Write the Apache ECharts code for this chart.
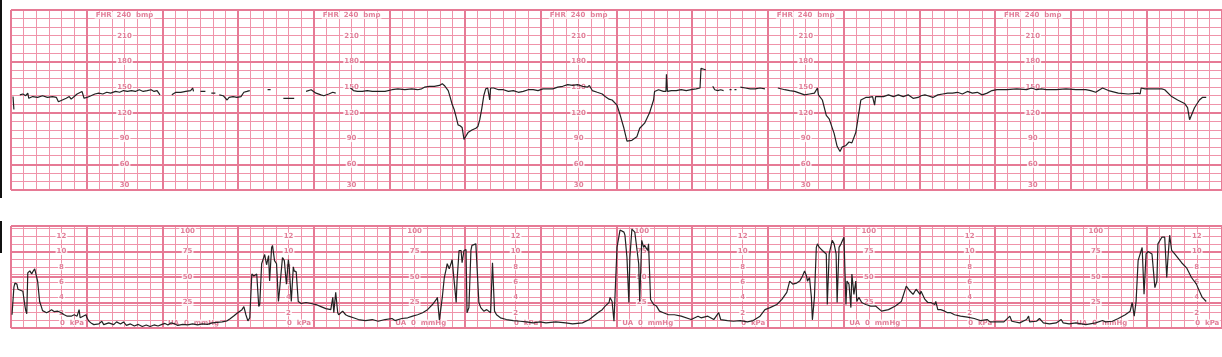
<!DOCTYPE html>
<html>
<head>
<meta charset="utf-8">
<script src="https://cdn.jsdelivr.net/npm/echarts@6/dist/echarts.min.js"></script>
<style>html,body{margin:0;padding:0;background:#fff}#c{width:1222px;height:357px}</style>
</head>
<body>
<div id="c"></div>
<script>
// ---- DATA (time in seconds, FHR in bpm, UA in mmHg; null = signal loss) ----
const fhrTrace = [
[1.6,139],[2.3,124],[3,null],
[7.0,141],[9.4,142],[11.7,140],[13.3,143],[14.1,137],[17.2,139],[21.1,138],[25.0,140],[28.9,138],[32.9,139],[36.0,138],[37.6,133],[40.7,135],[43.8,137],[46.2,139],[47.7,136],[50.1,139],[52.4,142],[56.3,145],[57.9,137],[60.2,138],[63.4,140],[66.5,142],[69.6,143],[72.8,142],[75.9,144],[79.0,143],[82.9,145],[86.1,144],[89.2,146],[92.3,145],[95.5,146],[98.6,145],[101.7,147],[104.8,145],[108.0,146],[111.1,147],[113.4,145],[115.8,146],[118.1,141],[120,null],
[127.5,141],[130.7,144],[134.6,144],[138.5,145],[142.4,146],[144.0,149],[144.7,145],[147,null],
[150.2,145],[154.1,145],[156,null],
[158.8,143],[162.0,143],[163,null],
[165.1,141],[168.2,140],[171.3,135],[172.9,138],[176.0,139],[179.2,138],[182.3,139],[184.6,144],[187.0,145],[189.3,146],[195,null],
[203.4,147],[205.8,147],[210,null],
[215.9,137],[224.5,137],[230,null],
[233.9,145],[237.9,147],[241.8,143],[245.7,141],[248.0,140],[251.9,142],[255.1,144],[257.4,143],[262,null],
[269.1,149],[271.5,146],[274.6,145],[278.5,145],[282.4,146],[286.4,145],[291.1,145],[296.5,145],[302.0,147],[306.7,148],[312.2,147],[317.7,148],[322.3,147],[325.5,148],[327.8,150],[331.7,151],[335.6,151],[339.6,152],[341.9,154],[343.5,152],[345.0,150],[346.6,146],[348.2,138],[349.7,130],[351.3,124],[352.9,115],[354.4,106],[356.0,105],[357.6,103],[359.1,89],[360.7,93],[362.3,97],[363.8,99],[365.4,100],[366.9,101],[368.5,102],[370.1,104],[371.6,112],[373.2,125],[374.8,140],[376.3,148],[377.9,149],[379.5,135],[380.2,149],[382.6,149],[386.5,147],[390.4,147],[394.3,145],[398.2,146],[402.2,144],[406.1,145],[410.0,147],[413.9,147],[417.8,146],[421.7,148],[425.6,148],[429.5,148],[433.4,150],[437.4,151],[441.3,153],[445.2,152],[449.1,153],[453.0,151],[456.9,150],[458.5,152],[460.8,146],[464.7,144],[468.7,142],[471.0,139],[474.1,136],[476.5,135],[480.4,129],[482.8,118],[485.9,102],[488.3,87],[489.8,85],[492.2,88],[496.1,92],[498.4,102],[502.3,108],[506.2,120],[509.4,135],[510.2,145],[513.3,147],[517.2,145],[519.2,145],[519.6,165],[520.4,145],[523.5,146],[527.4,146],[531.3,147],[535.3,146],[539.2,147],[543.1,148],[546.2,149],[547.0,172],[548.5,170],[550.9,170],[553,null],
[556.3,151],[557.9,147],[560.2,146],[562.6,147],[564.9,146],[567,null],
[569.6,147],[571.2,147],[572,null],
[573.5,147],[575.1,147],[576,null],
[578.2,150],[582.1,149],[586.0,148],[589.9,148],[593.8,149],[597.7,148],[600,null],
[607.9,149],[613.4,147],[617.3,146],[621.3,145],[625.2,143],[629.1,141],[633.0,142],[636.9,143],[639.3,149],[640.1,141],[643.2,135],[646.3,117],[648.6,113],[652.5,96],[654.9,81],[657.2,75],[658.8,80],[661.9,82],[664.3,86],[666.6,85],[669.7,97],[671.3,112],[673.7,135],[674.4,137],[677.6,138],[679.9,138],[683.0,139],[684.2,139],[684.6,129],[685.4,139],[687.7,139],[691.6,139],[695.6,141],[699.5,139],[703.4,141],[707.3,139],[711.2,141],[715.1,137],[719.1,138],[721.4,140],[724.5,141],[726.8,140],[730.8,138],[734.7,141],[738.6,142],[742.5,143],[746.4,143],[750.3,144],[754.2,142],[758.2,145],[762.1,143],[766.0,144],[769.9,141],[773.8,143],[777.7,146],[781.6,147],[789.4,147],[797.3,148],[805.1,147],[809.0,149],[812.9,147],[816.8,148],[820.7,147],[828.6,147],[836.4,148],[844.2,147],[852.0,147],[855.9,146],[859.9,144],[865.3,149],[870.0,146],[877.8,143],[885.7,142],[893.5,143],[895.1,142],[895.9,149],[899.0,148],[906.8,148],[912.3,148],[914.6,147],[920.1,139],[924.8,135],[930.3,131],[932.7,126],[934.3,112],[935.8,113],[938.2,126],[942.1,135],[944.4,138],[947.5,138]
];

const uaTrace = [
[0.8,13],[2.3,40],[3.1,44],[4.7,43],[5.5,38],[7.0,37],[9.4,36],[11.0,22],[11.7,17],[12.5,14],[13.3,54],[14.9,56],[16.4,53],[17.2,55],[18.8,58],[20.3,58],[21.1,46],[22.7,26],[24.3,20],[25.0,17],[28.2,15],[30.5,16.5],[32.1,18],[34.4,16],[36.8,16.5],[39.9,15],[42.2,13],[44.6,11.6],[47.7,11.6],[50.1,13],[52.4,11.6],[54.0,18],[54.8,10],[56.3,11.6],[59.5,13],[60.2,10],[61.8,6.6],[63.4,5],[65.7,3.3],[69.6,4],[72.0,6.6],[73.5,3.3],[77.5,5],[81.4,3.3],[83.7,6],[86.8,4],[89.2,6],[91.5,2.6],[94.7,4],[97.8,2],[100.9,3.5],[104.1,1.5],[107.2,3],[110.3,1.5],[113.4,3],[116.6,2],[119.7,3.5],[122.1,4.5],[124.4,3],[126.7,5],[129.9,4],[132.2,2.5],[136.1,3.5],[140.0,3],[144.0,4],[147.9,3],[151.8,4],[155.7,3.5],[159.6,5],[163.5,5.5],[167.4,6],[171.3,7],[173.7,9],[176.8,12],[179.2,14.5],[183.1,18],[184.6,21],[186.2,13],[187.8,7],[189.3,10],[190.9,53],[192.5,51],[193.3,52],[194.8,53],[196.4,21],[197.2,23],[198.7,63],[200.3,69],[201.1,72],[202.6,62],[204.2,71],[205.0,46],[206.6,79],[207.3,81],[208.9,66],[210.5,63],[212.0,26],[212.8,36],[215.2,69],[216.7,66],[218.3,43],[219.9,67],[220.6,59],[222.2,26],[223.8,60],[224.5,56],[226.1,55],[227.7,26],[230.0,24],[233.9,25],[237.9,24],[241.8,23],[245.7,21],[249.6,19],[253.5,18],[254.3,16.5],[255.1,30],[255.9,15],[257.4,35],[259.0,15],[259.8,13],[262.9,16.5],[265.3,13],[267.6,11.6],[271.5,10],[275.4,8.3],[280.9,7.3],[286.4,8.3],[291.1,6.6],[296.5,8.3],[302.0,9.3],[304.4,7.3],[309.8,9.3],[314.5,10],[318.4,11.6],[322.3,13],[326.3,15],[330.2,18],[334.1,23],[337.2,28],[338.0,30],[339.6,8],[341.1,6.6],[341.9,30],[343.5,49.5],[345.0,58],[345.8,63],[347.4,58],[349.0,64],[349.7,67],[351.3,46],[352.9,25],[353.6,46],[355.2,76],[356.8,76],[357.6,64],[359.1,76],[360.7,77],[361.5,15],[363.0,20],[364.6,76],[365.4,81],[368.5,82.5],[369.3,82.5],[370.9,25],[372.4,20],[374.8,16.5],[377.1,18],[380.2,15],[381.7,64],[383.3,16.5],[384.9,13],[388.0,10],[392.7,8.3],[398.2,7.3],[403.7,6.6],[408.4,6],[413.9,5],[419.4,6],[424.1,5],[431.9,6],[439.7,5],[445.2,4],[453.0,5],[458.5,8.3],[463.2,13],[466.3,16],[468.7,18],[471.0,21.5],[474.1,25],[474.9,30],[476.5,26],[478.0,6.6],[478.9,5],[480.4,79],[482.8,96],[485.9,94],[486.7,91],[488.3,69],[489.8,25],[490.6,69],[492.2,97],[494.5,94],[497.6,63],[498.4,26],[500.0,86],[501.5,79],[502.3,81],[504.7,76],[505.4,82.5],[507.0,28],[509.4,23],[511.7,21.5],[514.1,16.5],[517.2,15],[521.2,13],[525.9,13],[531.3,11.6],[539.2,8.3],[544.6,11.6],[547.0,10],[552.4,11.6],[557.1,8.3],[561.0,15],[562.6,8.3],[568.0,7.3],[572.7,6.6],[578.2,7.3],[583.7,6],[588.4,7.3],[593.8,11.6],[597.7,18],[601.7,20],[607.1,23],[611.1,28],[615.0,35],[617.3,46],[619.7,43],[622.8,44],[625.2,46],[627.5,51],[629.1,56],[630.6,51],[631.4,46],[633.0,49.5],[634.5,30],[635.3,8],[636.9,30],[638.4,79],[639.3,82.5],[640.8,79],[643.2,76],[646.3,72.6],[647.1,23],[648.6,72.6],[651.0,86],[652.5,82.5],[654.1,72.6],[654.9,25],[656.4,79],[658.0,82.5],[658.8,81],[660.3,89],[661.9,23],[662.7,46],[664.3,43],[665.8,20],[666.6,53],[668.2,33],[669.7,46],[670.5,26],[672.1,30],[674.4,25],[677.6,23],[681.5,21.5],[685.4,21.5],[690.1,16.5],[695.6,18],[701.1,21.5],[705.8,26],[709.7,41],[712.8,36],[715.1,33],[717.5,38],[720.6,33],[721.4,36],[724.5,28],[726.8,25],[729.2,25],[732.3,23],[733.1,26],[734.7,18],[737.0,18],[740.2,16.5],[742.5,15],[744.9,15],[748.0,13],[752.7,11.6],[758.2,10.6],[763.6,9.3],[768.3,7.3],[773.8,8.3],[776.2,6],[781.6,6],[787.1,6],[791.8,11.6],[793.4,6.6],[799.6,5],[805.1,8.3],[806.7,11.6],[807.5,6],[813.0,6.6],[815.3,9.3],[818.4,5],[823.2,4],[828.6,5],[832.5,8.3],[834.1,5],[838.8,4],[844.2,5],[852.0,3.3],[859.9,5],[865.3,7.3],[867.7,6],[873.1,6.6],[877.8,9.3],[883.3,13],[887.2,16.5],[888.8,25],[890.4,11.6],[891.9,26],[893.5,66],[896.7,79],[898.2,33],[899.8,72.6],[901.4,75],[904.5,72.6],[906.8,39.6],[908.4,46],[909.2,82.5],[912.3,89],[914.6,89],[916.2,49.5],[917.0,66],[918.5,91],[920.1,76],[922.5,72.6],[928.0,64],[931.9,59],[935.8,49.5],[939.7,43],[942.1,36],[944.4,30],[947.5,26]
];

const fhrTickLabels = [240, 210, 180, 150, 120, 90, 60, 30];   // bpm
const mmHgTickLabels = [100, 75, 50, 25, 0];                   // mmHg
const kPaTickLabels = [12, 10, 8, 6, 4, 2, 0];                 // kPa
const fhrMajorLines = [30, 60, 120, 180, 240];
const uaMajorLines = [0, 25, 50, 75, 100];

// ---- LAYOUT / STYLE ----
const KPA_TO_MMHG = 7.50062;
const T_MAX = 960, T_MAJOR = 60, T_MINOR = 10;
const fhrLabelCols = [90, 270, 450, 630, 810];        // seconds
const kPaLabelCols = [40, 220, 400, 580, 760, 940];
const mmHgLabelCols = [140, 320, 500, 680, 860];
const MAJOR = '#e67a95', MINOR = '#ef94aa', TXT = '#d95f80', TRACE = '#222222';
const FONT = 'DejaVu Sans';

const range = (a, b, s) => { const r = []; for (let v = a; v <= b + 1e-9; v += s) r.push(+v.toFixed(4)); return r; };
const tMinor = range(0, T_MAX, T_MINOR).filter(t => t % T_MAJOR !== 0);
const tMajor = range(0, T_MAX, T_MAJOR);
const fhrMinor = range(30, 240, 10).filter(v => fhrMajorLines.indexOf(v) < 0);
const uaMinor = range(0, 100, KPA_TO_MMHG);

function txtStyle() {
  return {show:true, position:'inside', color:TXT, fontFamily:FONT, fontSize:7, fontWeight:'bold',
    backgroundColor:'#fff', padding:[0,1,0,1], formatter: p => p.data.text};
}

const fhrLabels = [];
fhrLabelCols.forEach(t => fhrTickLabels.forEach(v => {
  const y = Math.min(234, Math.max(35.5, v));
  fhrLabels.push({value:[t, y], text: v === 240 ? 'FHR  240  bmp' : String(v)});
}));
const uaLabels = [];
kPaLabelCols.forEach(t => kPaTickLabels.forEach(k => {
  const y = Math.max(5, k * KPA_TO_MMHG);
  if (k === 0) uaLabels.push({value:[t, y], text:'0  kPa', label:{align:'left', offset:[-2.5,0]}});
  else uaLabels.push({value:[t, y], text:String(k)});
}));
mmHgLabelCols.forEach(t => mmHgTickLabels.forEach(m => {
  const y = Math.min(95, Math.max(5, m));
  if (m === 0) uaLabels.push({value:[t, y], text:'UA  0  mmHg', label:{offset:[6,0]}});
  else uaLabels.push({value:[t, y], text:String(m)});
}));

function xAx(i) {
  return {type:'value', gridIndex:i, min:0, max:T_MAX, interval:T_MAJOR,
    axisLine:{show:false}, axisTick:{show:false}, axisLabel:{show:false},
    splitLine:{show:false}, minorSplitLine:{show:false}};
}
function yAx(i, min, max) {
  return {type:'value', gridIndex:i, min:min, max:max,
    axisLine:{show:false}, axisTick:{show:false}, axisLabel:{show:false},
    splitLine:{show:false}};
}
function gridLines(i, xs, ys, color, width, z) {
  const d = xs.map(v => ({xAxis:v})).concat(ys.map(v => ({yAxis:v})));
  return {type:'line', xAxisIndex:i, yAxisIndex:i, data:[], z:z, silent:true,
    markLine:{silent:true, z:z, symbol:['none','none'], label:{show:false}, animation:false, precision:4,
      emphasis:{disabled:true},
      lineStyle:{color:color, width:width, type:'solid'}, data:d}};
}
const toLine = arr => arr.map(p => [p[0], p[1] === null ? '-' : p[1]]);

const chart = echarts.init(document.getElementById('c'), null, {renderer:'canvas'});
chart.setOption({
  animation:false,
  backgroundColor:'#fff',
  grid:[{left:11, top:10, width:1227, height:180}, {left:11, top:226, width:1227, height:102}],
  xAxis:[xAx(0), xAx(1)],
  yAxis:[yAx(0, 30, 240), yAx(1, 0, 100)],
  graphic:[
    {type:'rect', shape:{x:0, y:0, width:2, height:198}, style:{fill:'#111'}},
    {type:'rect', shape:{x:0, y:221, width:2, height:32}, style:{fill:'#111'}}
  ],
  series:[
    gridLines(0, tMinor, fhrMinor, MINOR, 1, 1),
    gridLines(1, tMinor, uaMinor, MINOR, 1, 1),
    gridLines(0, tMajor, fhrMajorLines, MAJOR, 2, 2),
    gridLines(1, tMajor, uaMajorLines, MAJOR, 2, 2),
    {type:'scatter', xAxisIndex:0, yAxisIndex:0, symbolSize:0, z:3, silent:true, data:fhrLabels, label:txtStyle()},
    {type:'scatter', xAxisIndex:1, yAxisIndex:1, symbolSize:0, z:3, silent:true, data:uaLabels, label:txtStyle()},
    {type:'line', name:'FHR', xAxisIndex:0, yAxisIndex:0, data:toLine(fhrTrace), showSymbol:false, symbol:'none', z:5,
      connectNulls:false, lineStyle:{color:TRACE, width:1.2}},
    {type:'line', name:'UA', xAxisIndex:1, yAxisIndex:1, data:toLine(uaTrace), showSymbol:false, symbol:'none', z:5,
      connectNulls:false, lineStyle:{color:TRACE, width:1.2}}
  ]
});
</script>
</body>
</html>
